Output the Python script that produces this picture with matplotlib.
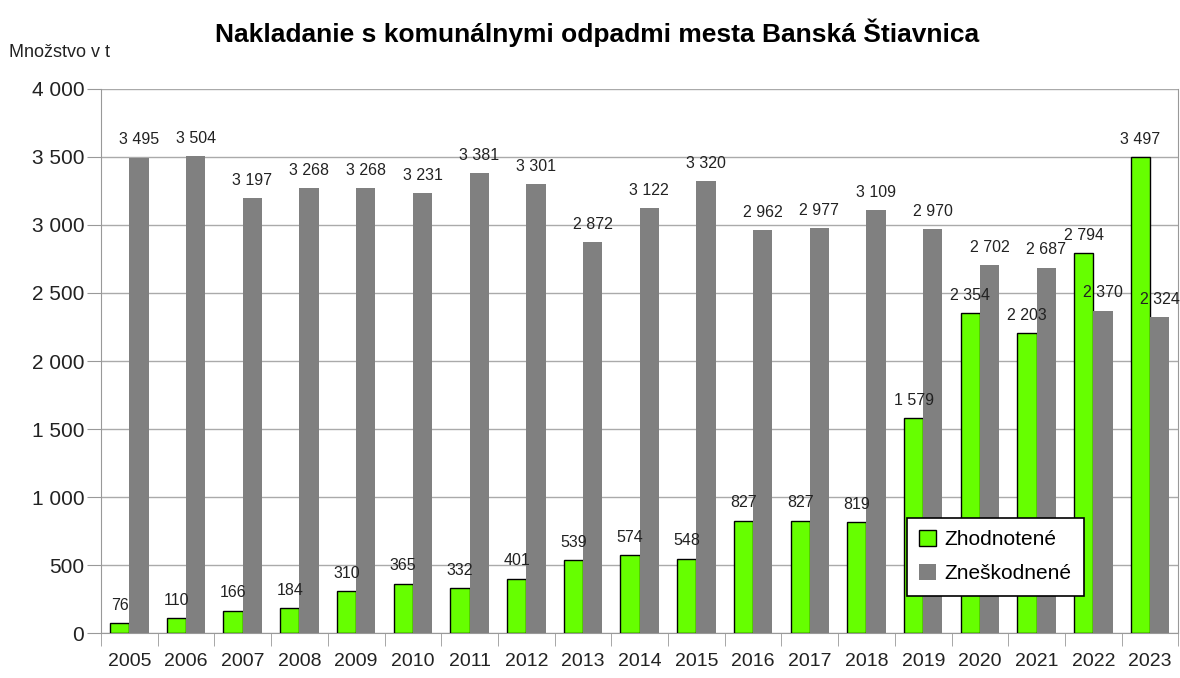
import matplotlib
import matplotlib.pyplot as plt
import numpy as np
from matplotlib.ticker import FuncFormatter, FixedLocator

matplotlib.use('Agg')

plt.rcParams['font.family'] = ['Liberation Sans', 'DejaVu Sans']

# údaje
roky = ['2005', '2006', '2007', '2008', '2009', '2010', '2011', '2012', '2013', '2014',
        '2015', '2016', '2017', '2018', '2019', '2020', '2021', '2022', '2023']
zhodnotene = [76, 110, 166, 184, 310, 365, 332, 401, 539, 574,
              548, 827, 827, 819, 1579, 2354, 2203, 2794, 3497]
zneskodnene = [3495, 3504, 3197, 3268, 3268, 3231, 3381, 3301, 2872, 3122,
               3320, 2962, 2977, 3109, 2970, 2702, 2687, 2370, 2324]


def fmt(v):
    return f"{int(v):,}".replace(',', ' ')


fig = plt.figure(figsize=(11.8, 6.78), dpi=100)
ax = fig.add_axes([0.0856, 0.066, 0.913, 0.803])

x = np.arange(len(roky))
w = 0.34
ax.bar(x - w / 2, zhodnotene, w, color='#66ff00', edgecolor='black', linewidth=1.0,
       label='Zhodnotené', zorder=3)
ax.bar(x + w / 2, zneskodnene, w, color='#808080', label='Zneškodnené', zorder=3)

for i in range(len(roky)):
    ax.text(x[i] - w / 2, zhodnotene[i] + 75, fmt(zhodnotene[i]), ha='center', va='bottom',
            fontsize=11.5, color='#222222', zorder=4)
    ax.text(x[i] + w / 2, zneskodnene[i] + 75, fmt(zneskodnene[i]), ha='center', va='bottom',
            fontsize=11.5, color='#222222', zorder=4)

ax.set_xlim(-0.5, len(roky) - 0.5)
ax.set_ylim(0, 4000)
ax.set_yticks(range(0, 4001, 500))
ax.yaxis.set_major_formatter(FuncFormatter(lambda v, p: fmt(v)))
ax.set_xticks(x)
ax.set_xticklabels(roky)
ax.xaxis.set_minor_locator(FixedLocator(np.arange(-0.5, len(roky), 1)))
ax.tick_params(axis='x', which='major', length=0, labelsize=14, pad=14, colors='#222222')
ax.tick_params(axis='x', which='minor', length=9, color='#999999')
ax.tick_params(axis='y', length=10, labelsize=15, pad=2, colors='#222222')
ax.tick_params(axis='y', color='#999999')

ax.grid(axis='y', color='#aaaaaa', linewidth=1.0, zorder=0)
ax.spines['top'].set_visible(False)
ax.spines['left'].set_color('#999999')
ax.spines['bottom'].set_color('#999999')
ax.spines['right'].set_color('#999999')

fig.text(0.506, 0.952, 'Nakladanie s komunálnymi odpadmi mesta Banská Štiavnica',
         ha='center', va='center', fontsize=19, fontweight='bold')
fig.text(0.008, 0.922, 'Množstvo v t', ha='left', va='center', fontsize=13, color='#222222')

leg = ax.legend(loc='lower left', bbox_to_anchor=(0.738, 0.050), fontsize=15,
                frameon=True, fancybox=False, edgecolor='black', framealpha=1,
                handlelength=0.8, handleheight=0.8, handletextpad=0.4, borderpad=0.6,
                labelspacing=0.7)
leg.get_frame().set_linewidth(1.2)

fig.savefig('out.png', dpi=100)
